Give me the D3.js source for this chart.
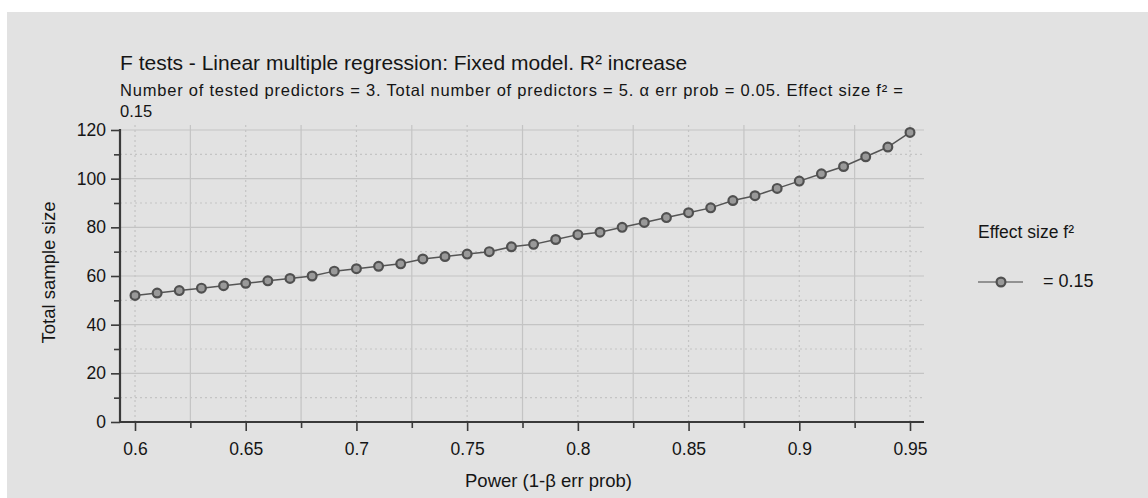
<!DOCTYPE html>
<html>
<head>
<meta charset="utf-8">
<script src="https://cdn.jsdelivr.net/npm/d3@7"></script>
<style>
  html, body { margin: 0; padding: 0; background: #ffffff; }
  svg { display: block; font-family: "Liberation Sans", Arial, Helvetica, sans-serif; }
</style>
</head>
<body>
<svg id="chart" width="1148" height="498"></svg>
<script>
// Power (1-β) on the x axis, total sample size on the y axis
const powerValues = [0.60, 0.61, 0.62, 0.63, 0.64, 0.65, 0.66, 0.67, 0.68, 0.69,
                     0.70, 0.71, 0.72, 0.73, 0.74, 0.75, 0.76, 0.77, 0.78, 0.79,
                     0.80, 0.81, 0.82, 0.83, 0.84, 0.85, 0.86, 0.87, 0.88, 0.89,
                     0.90, 0.91, 0.92, 0.93, 0.94, 0.95];
const sampleSizes = [52, 53, 54, 55, 56, 57, 58, 59, 60, 62,
                     63, 64, 65, 67, 68, 69, 70, 72, 73, 75,
                     77, 78, 80, 82, 84, 86, 88, 91, 93, 96,
                     99, 102, 105, 109, 113, 119];
const xMajorTicks = [0.6, 0.65, 0.7, 0.75, 0.8, 0.85, 0.9, 0.95];
const xMinorTicks = [0.625, 0.675, 0.725, 0.775, 0.825, 0.875, 0.925];
const yMajorTicks = [0, 20, 40, 60, 80, 100, 120];
const yMinorTicks = [10, 30, 50, 70, 90, 110];
const seriesLabel = "= 0.15";

const titleText = "F tests - Linear multiple regression: Fixed model. R\u00B2 increase";
const subtitleLines = [
  "Number of tested predictors = 3. Total number of predictors = 5. \u03B1 err prob = 0.05. Effect size f\u00B2 =",
  "0.15"
];

const svg = d3.select("#chart");
const textColor = "#151515";

// panel background
svg.append("rect").attr("x", 7).attr("y", 12).attr("width", 1141).attr("height", 486)
  .attr("fill", "#e2e2e2");

const x = d3.scaleLinear().domain([0.6, 0.95]).range([135, 910]);
const y = d3.scaleLinear().domain([0, 120]).range([422, 130]);
const plotLeft = 120, plotRight = 924, plotTop = 125, plotBottom = 422;

const grid = svg.append("g");
const gridColor = "#c4c4c4";
// horizontal grid: solid at major, dotted at minor
grid.selectAll(".hmaj").data(yMajorTicks.filter(d => d > 0)).join("line")
  .attr("x1", plotLeft).attr("x2", plotRight)
  .attr("y1", d => y(d)).attr("y2", d => y(d))
  .attr("stroke", gridColor).attr("stroke-width", 1.2);
grid.selectAll(".hmin").data(yMinorTicks).join("line")
  .attr("x1", plotLeft).attr("x2", plotRight)
  .attr("y1", d => y(d)).attr("y2", d => y(d))
  .attr("stroke", gridColor).attr("stroke-width", 1.2).attr("stroke-dasharray", "2,3");
// vertical grid: dotted at major, solid at minor
grid.selectAll(".vmaj").data(xMajorTicks).join("line")
  .attr("x1", d => x(d)).attr("x2", d => x(d))
  .attr("y1", plotTop).attr("y2", plotBottom)
  .attr("stroke", gridColor).attr("stroke-width", 1.2).attr("stroke-dasharray", "2,3");
grid.selectAll(".vmin").data(xMinorTicks).join("line")
  .attr("x1", d => x(d)).attr("x2", d => x(d))
  .attr("y1", plotTop).attr("y2", plotBottom)
  .attr("stroke", gridColor).attr("stroke-width", 1.2);

// axes
const axisColor = "#3a3a3a";
const yAxis = svg.append("g").attr("transform", `translate(${plotLeft},0)`)
  .call(d3.axisLeft(y).tickValues(yMajorTicks).tickSize(9).tickPadding(5).tickFormat(d3.format("d")));
const yMinor = svg.append("g").attr("transform", `translate(${plotLeft},0)`)
  .call(d3.axisLeft(y).tickValues(yMinorTicks).tickSize(6).tickFormat(""));
const xAxis = svg.append("g").attr("transform", `translate(0,${plotBottom})`)
  .call(d3.axisBottom(x).tickValues(xMajorTicks).tickSize(9).tickPadding(12).tickFormat(d => String(d)));
const xMinor = svg.append("g").attr("transform", `translate(0,${plotBottom})`)
  .call(d3.axisBottom(x).tickValues(xMinorTicks).tickSize(6).tickFormat(""));

[yAxis, yMinor, xAxis, xMinor].forEach(g => {
  g.select(".domain").remove();
  g.selectAll(".tick line").attr("stroke", axisColor).attr("stroke-width", 1.6);
  g.selectAll("text").attr("fill", textColor).attr("font-size", 17.5)
    .attr("font-family", "Liberation Sans, Arial, sans-serif");
});
// axis lines
svg.append("line").attr("x1", plotLeft).attr("x2", plotLeft).attr("y1", 129).attr("y2", plotBottom + 1)
  .attr("stroke", axisColor).attr("stroke-width", 2.2);
svg.append("line").attr("x1", plotLeft - 1).attr("x2", plotRight).attr("y1", plotBottom).attr("y2", plotBottom)
  .attr("stroke", axisColor).attr("stroke-width", 2.2);

// series
const pts = powerValues.map((p, i) => [p, sampleSizes[i]]);
svg.append("path").datum(pts)
  .attr("d", d3.line().x(d => x(d[0])).y(d => y(d[1])))
  .attr("fill", "none").attr("stroke", "#555555").attr("stroke-width", 1.5);
svg.selectAll(".pt").data(pts).join("circle")
  .attr("cx", d => x(d[0])).attr("cy", d => y(d[1])).attr("r", 4.4)
  .attr("fill", "#999999").attr("stroke", "#505050").attr("stroke-width", 2.2);

// titles
svg.append("text").attr("x", 120).attr("y", 70).attr("font-size", 21).attr("fill", textColor)
  .text(titleText);
svg.append("text").attr("x", 120).attr("y", 95.5).attr("font-size", 16.5).attr("fill", textColor)
  .attr("textLength", 783).attr("lengthAdjust", "spacing")
  .text(subtitleLines[0]);
svg.append("text").attr("x", 120).attr("y", 117).attr("font-size", 16.5).attr("fill", textColor)
  .text(subtitleLines[1]);

// axis titles
svg.append("text").attr("x", 548.5).attr("y", 487).attr("text-anchor", "middle")
  .attr("font-size", 18.5).attr("fill", textColor).text("Power (1-\u03B2 err prob)");
svg.append("text").attr("transform", "translate(55,272.5) rotate(-90)").attr("text-anchor", "middle")
  .attr("font-size", 18.5).attr("fill", textColor).text("Total sample size");

// legend
svg.append("text").attr("x", 978).attr("y", 238).attr("font-size", 17.5).attr("fill", textColor)
  .text("Effect size f\u00B2");
svg.append("line").attr("x1", 978).attr("x2", 1023).attr("y1", 282).attr("y2", 282)
  .attr("stroke", "#777777").attr("stroke-width", 1.5);
svg.append("circle").attr("cx", 1001).attr("cy", 282).attr("r", 4.4)
  .attr("fill", "#999999").attr("stroke", "#505050").attr("stroke-width", 2.2);
svg.append("text").attr("x", 1043).attr("y", 287).attr("font-size", 18).attr("fill", textColor)
  .text(seriesLabel);
</script>
</body>
</html>
